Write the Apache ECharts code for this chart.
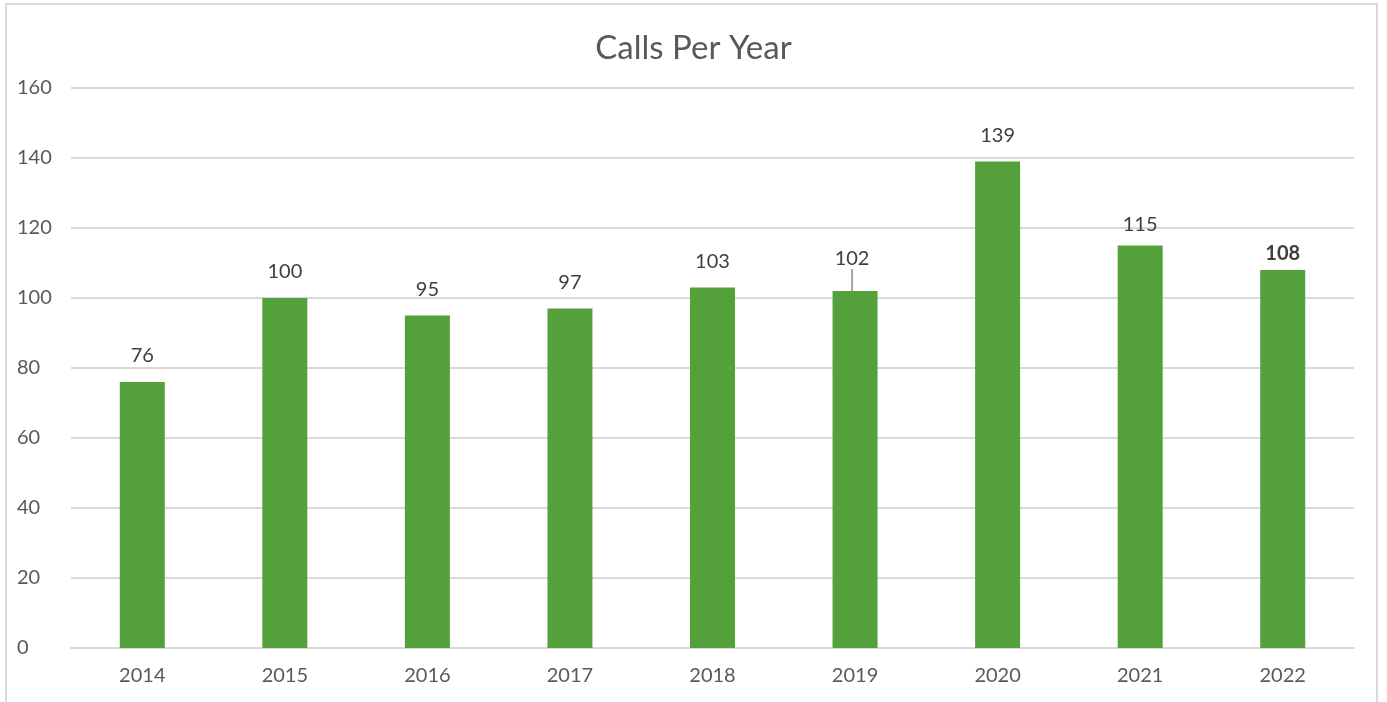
<!DOCTYPE html>
<html><head><meta charset="utf-8">
<script src="https://cdn.jsdelivr.net/npm/echarts@6/dist/echarts.min.js"></script>
<style>html,body{margin:0;padding:0;background:#fff}#c{width:1387px;height:702px}
#frame{position:absolute;left:5px;top:3px;width:1373px;height:710px;border:2px solid #d9d9d9;box-sizing:border-box;pointer-events:none}</style>
</head><body>
<div id="c"></div><div id="frame"></div>
<script>
const categories = ['2014','2015','2016','2017','2018','2019','2020','2021','2022'];
const calls = [76,100,95,97,103,102,139,115,108];
const yTicks = [0,20,40,60,80,100,120,140,160];

const chart = echarts.init(document.getElementById('c'));
const font = 'Lato, "Open Sans", sans-serif';
chart.setOption({
  animation:false,
  title:{text:'Calls Per Year',left:'center',top:27,textStyle:{fontFamily:font,fontSize:33,fontWeight:'normal',color:'#595959'}},
  grid:{left:71,right:33,top:88,bottom:54},
  xAxis:{type:'category',data:categories,axisLine:{lineStyle:{color:'#d9d9d9',width:2}},axisTick:{show:false},
    axisLabel:{fontFamily:font,fontSize:20,color:'#595959',margin:18}},
  yAxis:{type:'value',min:yTicks[0],max:yTicks[yTicks.length-1],interval:20,
    axisLabel:{fontFamily:font,fontSize:20,color:'#595959',margin:54,align:'left'},
    splitLine:{lineStyle:{color:'#d9d9d9',width:2}},axisLine:{show:false},axisTick:{show:false}},
  series:[{type:'bar',barWidth:45,itemStyle:{color:'#54A03A'},
    data:calls.map((v,i)=> i===8 ? {value:v,label:{fontWeight:'bold',color:'#404040'}}
                         : i===5 ? {value:v,labelLine:{show:true,lineStyle:{color:'#a6a6a6',width:2}}} : v),
    label:{show:true,position:'top',distance:16,fontFamily:font,fontSize:20,color:'#404040'},
    labelLayout:function(p){
      if(p.dataIndex===5){ return {dx:-3,dy:-6}; }
      if(p.dataIndex===7){ return {dy:5}; }
      if(p.dataIndex===8){ return {dy:10}; }
      return {};
    },
    labelLine:{show:false}
  }]
});
</script></body></html>
